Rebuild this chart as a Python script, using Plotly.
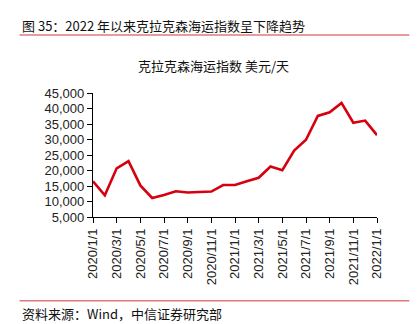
import plotly.graph_objects as go

# Monthly Clarksons shipping index, USD/day
months = [
    "2020/1/1", "2020/2/1", "2020/3/1", "2020/4/1", "2020/5/1", "2020/6/1",
    "2020/7/1", "2020/8/1", "2020/9/1", "2020/10/1", "2020/11/1", "2020/12/1",
    "2021/1/1", "2021/2/1", "2021/3/1", "2021/4/1", "2021/5/1", "2021/6/1",
    "2021/7/1", "2021/8/1", "2021/9/1", "2021/10/1", "2021/11/1", "2021/12/1",
    "2022/1/1",
]
index_values = [
    16500, 12000, 20700, 23000, 15200, 11150,
    12100, 13300, 12900, 13100, 13200, 15300,
    15300, 16500, 17650, 21300, 20100, 26400,
    29900, 37600, 38800, 41800, 35400, 36100,
    31400,
]
x_tick_labels = months[::2]
y_ticks = [5000, 10000, 15000, 20000, 25000, 30000, 35000, 40000, 45000]

W, H = 419, 324
L, R = 93.3, 376.7
T, B = 93.3, 216.7

fig = go.Figure()
fig.add_trace(go.Scatter(
    x=months, y=index_values, mode="lines",
    line=dict(color="#d7000f", width=2.6),
    hoverinfo="x+y",
))

cjk = "Noto Sans CJK SC"
num = "Liberation Sans, Arial"

fig.update_layout(
    width=W, height=H,
    margin=dict(l=L, r=W - R, t=T, b=H - B),
    paper_bgcolor="white", plot_bgcolor="white",
    showlegend=False,
    xaxis=dict(
        type="category", categoryorder="array", categoryarray=months,
        range=[0, len(months) - 1],
        tickmode="array", tickvals=x_tick_labels, ticktext=x_tick_labels,
        tickangle=-90, ticks="outside", ticklen=5, tickwidth=1.2,
        tickcolor="#000", showline=True, linecolor="#000", linewidth=1.4,
        showgrid=False, zeroline=False,
        tickfont=dict(family=num, size=13, color="#222"),
    ),
    yaxis=dict(
        range=[5000, 45000], tickvals=y_ticks,
        tickformat=",d", ticks="outside", ticklen=5, tickwidth=1.2,
        tickcolor="#000", showline=True, linecolor="#000", linewidth=1.4,
        showgrid=False, zeroline=False,
        tickfont=dict(family=num, size=13, color="#222"),
    ),
    shapes=[
        dict(type="line", xref="paper", yref="paper",
             x0=(20 - L) / (R - L), x1=(409 - L) / (R - L),
             y0=(B - 35.7) / (B - T), y1=(B - 35.7) / (B - T),
             line=dict(color="#e07a7a", width=1.5)),
        dict(type="line", xref="paper", yref="paper",
             x0=(20 - L) / (R - L), x1=(409 - L) / (R - L),
             y0=(B - 300) / (B - T), y1=(B - 300) / (B - T),
             line=dict(color="#e07a7a", width=1.5)),
    ],
    annotations=[
        dict(text="图 35：2022 年以来克拉克森海运指数呈下降趋势",
             xref="paper", yref="paper",
             x=(20 - L) / (R - L), y=(B - 26) / (B - T),
             xanchor="left", yanchor="middle", showarrow=False,
             font=dict(family=cjk, size=13, color="#111")),
        dict(text="克拉克森海运指数 美元/天",
             xref="paper", yref="paper",
             x=(214 - L) / (R - L), y=(B - 65.5) / (B - T),
             xanchor="center", yanchor="middle", showarrow=False,
             font=dict(family=cjk, size=13, color="#111")),
        dict(text="资料来源：Wind，中信证券研究部",
             xref="paper", yref="paper",
             x=(20 - L) / (R - L), y=(B - 313) / (B - T),
             xanchor="left", yanchor="middle", showarrow=False,
             font=dict(family=cjk, size=13, color="#111")),
    ],
)

fig.write_html("out.html")
